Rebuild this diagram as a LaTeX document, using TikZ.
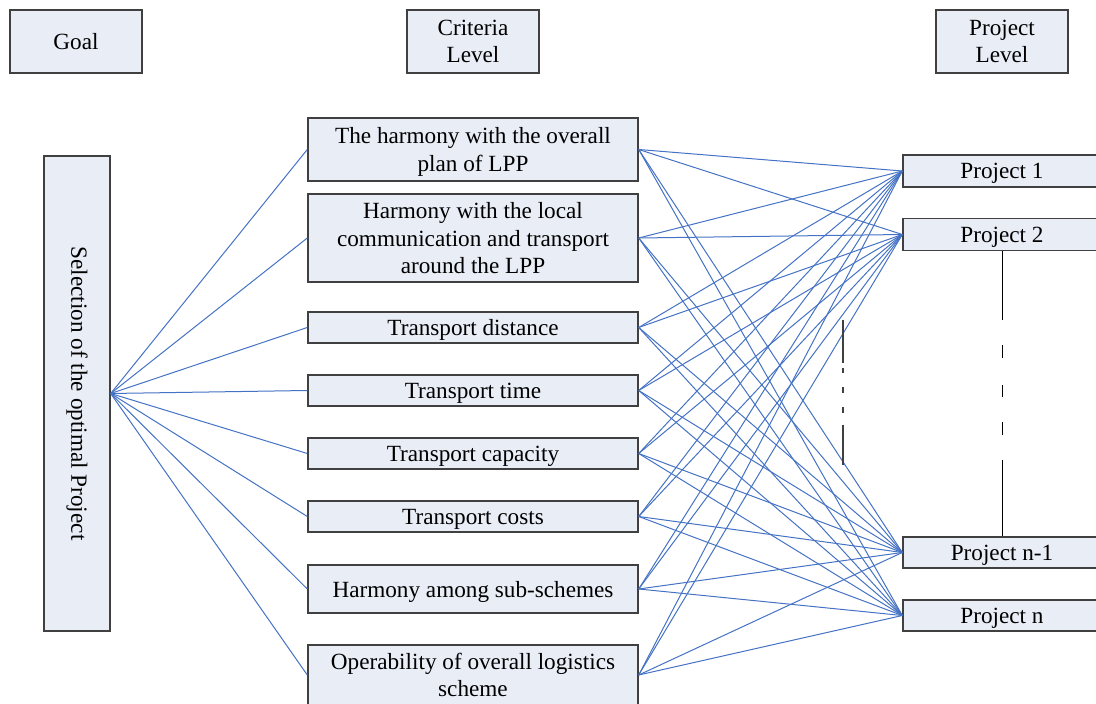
\documentclass[tikz,border=0pt]{standalone}
\usepackage{fontspec}
\setmainfont{Liberation Serif}
\newlength{\du}
\setlength{\du}{0.5pt}
\definecolor{boxfill}{rgb}{0.914, 0.929, 0.965}
\definecolor{boxline}{rgb}{0.250, 0.250, 0.250}
\definecolor{linkcolor}{rgb}{0.267, 0.447, 0.769}
\tikzset{
  levelbox/.style={draw=boxline, fill=boxfill, line width=1.4\du, inner sep=0pt,
    align=center, text depth=0pt, font=\fontsize{11.6}{13.6}\selectfont},
  link/.style={draw=linkcolor, line width=1\du},
}

\begin{document}
\begin{tikzpicture}
\pgftransformxscale{1.000000}
\pgftransformyscale{-1.000000}
\path[use as bounding box, clip] (0\du,0\du) rectangle (1096\du,704\du);
% level headers
\node[levelbox, minimum width=132\du, minimum height=63\du] (goalhead) at (76\du,41.5\du){Goal};
\node[levelbox, minimum width=132\du, minimum height=63\du] (crithead) at (473\du,41.5\du){Criteria\\Level};
\node[levelbox, minimum width=132\du, minimum height=63\du] (projhead) at (1002\du,41.5\du){Project\\Level};
% goal
\node[levelbox, minimum width=66\du, minimum height=475\du] (goal) at (77\du,393.5\du){};
\node[rotate=-90, font=\fontsize{11.6}{13.6}\selectfont] (goaltext) at (goal.center){Selection of the optimal Project};
% criteria
\node[levelbox, minimum width=330\du, minimum height=63\du] (c1) at (473\du,149.5\du){The harmony with the overall\\plan of LPP};
\node[levelbox, minimum width=330\du, minimum height=88\du] (c2) at (473\du,238\du){Harmony with the local\\communication and transport\\around the LPP};
\node[levelbox, minimum width=330\du, minimum height=31\du] (c3) at (473\du,327.5\du){Transport distance};
\node[levelbox, minimum width=330\du, minimum height=31\du] (c4) at (473\du,390.5\du){Transport time};
\node[levelbox, minimum width=330\du, minimum height=31\du] (c5) at (473\du,453.5\du){Transport capacity};
\node[levelbox, minimum width=330\du, minimum height=31\du] (c6) at (473\du,516.5\du){Transport costs};
\node[levelbox, minimum width=330\du, minimum height=48\du] (c7) at (473\du,589\du){Harmony among sub-schemes};
\node[levelbox, minimum width=330\du, minimum height=60\du] (c8) at (473\du,675\du){Operability of overall logistics\\scheme};
% projects
\node[levelbox, minimum width=198\du, minimum height=32\du] (p1) at (1002\du,171\du){Project 1};
\node[levelbox, minimum width=198\du, minimum height=32\du] (p2) at (1002\du,234.5\du){Project 2};
\node[levelbox, minimum width=198\du, minimum height=31\du] (p3) at (1002\du,552.5\du){Project n-1};
\node[levelbox, minimum width=198\du, minimum height=31\du] (p4) at (1002\du,615.5\du){Project n};
% connections
\foreach \c in {c1,c2,c3,c4,c5,c6,c7,c8}
{
\draw[link] (goal.east)--(\c.west);
\foreach \p in {p1,p2,p3,p4}
\draw[link] (\c.east)--(\p.west);
}
% ellipsis lines
\draw[line width=1\du, dash pattern=on 34.5pt off 12.5pt on 6.5pt off 13.5pt on 6pt off 12.5pt on 6.5pt off 12.5pt on 100pt] (p2.south)--(p3.north);
\coordinate (dottop) at (843\du,320\du);
\coordinate (dotbot) at (843\du,465\du);
\draw[boxline, line width=1.4\du, dash pattern=on 21.5pt off 2.5pt on 2.5pt off 7pt on 3pt off 7pt on 3pt off 6pt on 40pt] (dottop)--(dotbot);
\end{tikzpicture}
\end{document}
